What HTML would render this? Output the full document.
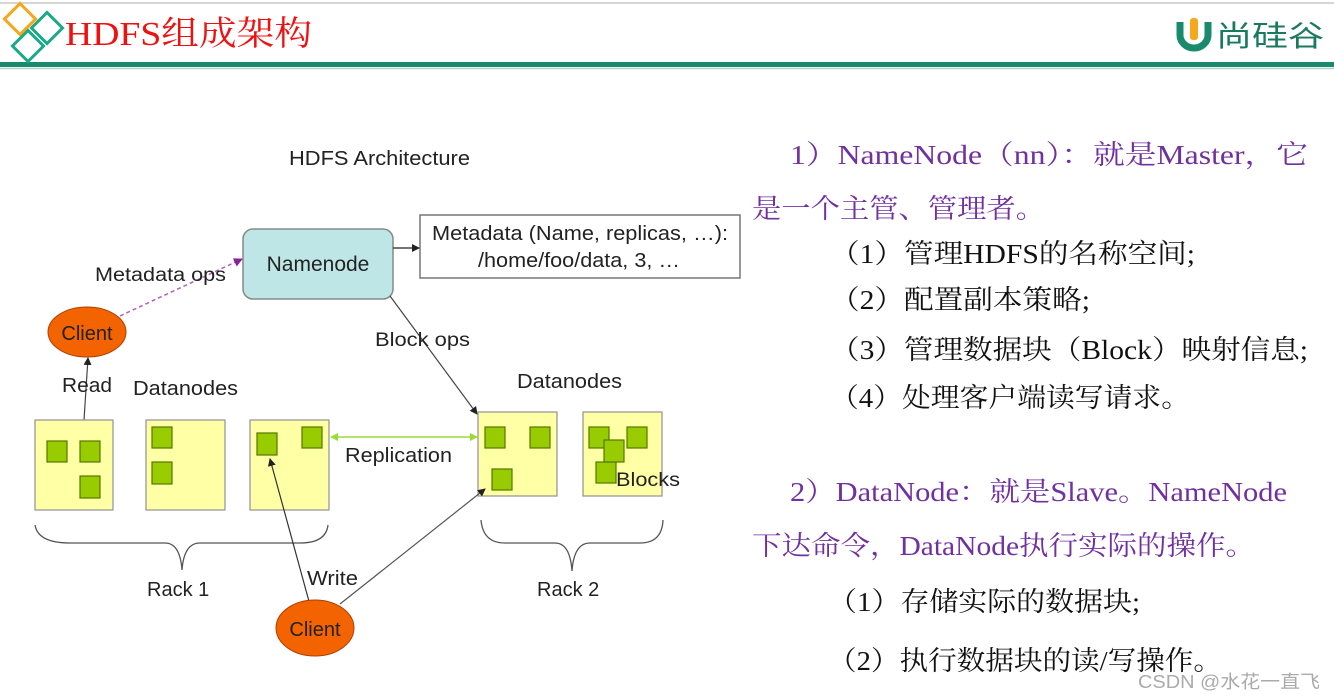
<!DOCTYPE html>
<html><head><meta charset="utf-8"><style>
html,body{margin:0;padding:0;background:#fff;}
svg{display:block;}
.d{font-family:"Liberation Sans","DejaVu Sans",sans-serif;fill:#222;}
.p{font-family:"Liberation Serif","Noto Serif CJK SC","Noto Sans CJK SC",serif;fill:#7030a0;font-size:27px;}
.b{font-family:"Liberation Serif","Noto Serif CJK SC","Noto Sans CJK SC",serif;fill:#111;font-size:27px;}
</style></head><body>
<svg width="1334" height="700" viewBox="0 0 1334 700" xmlns="http://www.w3.org/2000/svg">
<defs>
<marker id="ak" markerWidth="8" markerHeight="8" refX="7" refY="4" orient="auto" markerUnits="userSpaceOnUse"><path d="M0,0 L8,4 L0,8 z" fill="#222"/></marker>
<marker id="ap" markerWidth="9" markerHeight="9" refX="8" refY="4.5" orient="auto" markerUnits="userSpaceOnUse"><path d="M0,0 L9,4.5 L0,9 z" fill="#8a1fa0"/></marker>
<marker id="ag" markerWidth="8" markerHeight="8" refX="7" refY="4" orient="auto-start-reverse" markerUnits="userSpaceOnUse"><path d="M0,0 L8,4 L0,8 z" fill="#99dd33"/></marker>
</defs>
<line x1="0" y1="3" x2="1334" y2="3" stroke="#c8c8c8" stroke-width="1.5"/>
<rect x="0" y="62" width="1334" height="5" fill="#1a8a6e"/>
<line x1="0" y1="68.5" x2="1334" y2="68.5" stroke="#b8cfc8" stroke-width="1.5"/>
<rect x="9" y="8" width="22" height="22" transform="rotate(45 20 19)" fill="none" stroke="#f5a81c" stroke-width="3"/>
<rect x="36" y="17" width="22" height="22" transform="rotate(45 47 28)" fill="none" stroke="#1ea88a" stroke-width="3"/>
<rect x="17" y="35" width="22" height="22" transform="rotate(45 28 46)" fill="none" stroke="#1ea88a" stroke-width="3"/>
<text x="65" y="45" font-family="Liberation Serif,Noto Serif CJK SC,serif" font-size="34" fill="#ee1111" textLength="247" lengthAdjust="spacingAndGlyphs">HDFS组成架构</text>
<path d="M1180,22 L1180,35 A14,13 0 0 0 1208,35 L1208,22" fill="none" stroke="#1a8a6e" stroke-width="7"/>
<rect x="1190" y="18" width="8" height="22" rx="3" fill="#f5a81c"/>
<text x="1216" y="46" font-family="Noto Sans CJK SC,sans-serif" font-size="29" fill="#1a7a5e" textLength="108" lengthAdjust="spacingAndGlyphs">尚硅谷</text>
<text class="d" x="289" y="165" font-size="20" textLength="181" lengthAdjust="spacingAndGlyphs">HDFS Architecture</text>
<rect x="243" y="229" width="150" height="70" rx="10" fill="#bfe6e6" stroke="#888" stroke-width="1.5"/>
<text class="d" x="318" y="271" font-size="21" text-anchor="middle">Namenode</text>
<rect x="420" y="215" width="320" height="63" fill="#fff" stroke="#777" stroke-width="1.5"/>
<text class="d" x="432" y="240" font-size="20" textLength="296" lengthAdjust="spacingAndGlyphs">Metadata (Name, replicas, …):</text>
<text class="d" x="478" y="267" font-size="20" textLength="202" lengthAdjust="spacingAndGlyphs">/home/foo/data, 3, …</text>
<line x1="393" y1="248" x2="419" y2="248" stroke="#222" stroke-width="1.3" marker-end="url(#ak)"/>
<ellipse cx="87" cy="332" rx="39" ry="25" fill="#f36400" stroke="#b04000"/>
<text class="d" x="87" y="340" font-size="20" text-anchor="middle">Client</text>
<line x1="120" y1="316" x2="242" y2="259" stroke="#b060c0" stroke-width="1.5" stroke-dasharray="4,3" marker-end="url(#ap)"/>
<text class="d" x="95" y="281" font-size="19" textLength="131" lengthAdjust="spacingAndGlyphs">Metadata ops</text>
<line x1="390" y1="296" x2="477" y2="414" stroke="#444" stroke-width="1.2" marker-end="url(#ak)"/>
<text class="d" x="375" y="346" font-size="19" textLength="95" lengthAdjust="spacingAndGlyphs">Block ops</text>
<line x1="84" y1="420" x2="88" y2="358" stroke="#444" stroke-width="1.2" marker-end="url(#ak)"/>
<text class="d" x="62" y="392" font-size="20" textLength="50" lengthAdjust="spacingAndGlyphs">Read</text>
<text class="d" x="133" y="395" font-size="20" textLength="105" lengthAdjust="spacingAndGlyphs">Datanodes</text>
<text class="d" x="517" y="388" font-size="20" textLength="105" lengthAdjust="spacingAndGlyphs">Datanodes</text>
<g fill="#ffffa6" stroke="#999" stroke-width="1.3">
<rect x="35" y="420" width="78" height="90"/><rect x="146" y="420" width="79" height="90"/><rect x="250" y="420" width="79" height="90"/>
<rect x="478" y="412" width="79" height="84"/><rect x="583" y="412" width="79" height="84"/>
</g>
<g fill="#99cc00" stroke="#557700" stroke-width="1.2">
<rect x="47" y="441" width="20" height="21"/><rect x="80" y="441" width="20" height="21"/><rect x="80" y="476" width="20" height="22"/>
<rect x="152" y="427" width="20" height="21"/><rect x="152" y="462" width="20" height="22"/>
<rect x="257" y="433" width="20" height="22"/><rect x="302" y="427" width="20" height="21"/>
<rect x="485" y="427" width="20" height="21"/><rect x="530" y="427" width="20" height="21"/><rect x="492" y="469" width="20" height="21"/>
<rect x="589" y="427" width="20" height="21"/><rect x="627" y="427" width="20" height="21"/><rect x="596" y="462" width="20" height="21"/><rect x="604" y="440" width="20" height="22"/>
</g>
<text class="d" x="616" y="486" font-size="19" textLength="64" lengthAdjust="spacingAndGlyphs">Blocks</text>
<line x1="331" y1="437" x2="477" y2="437" stroke="#99dd33" stroke-width="1.6" marker-start="url(#ag)" marker-end="url(#ag)"/>
<text class="d" x="345" y="462" font-size="20" textLength="107" lengthAdjust="spacingAndGlyphs">Replication</text>
<path d="M35,525 Q38,543 70,543 L165,543 Q180,543 182,570 Q184,543 200,543 L300,543 Q326,543 328,525" fill="none" stroke="#555" stroke-width="1.3"/>
<path d="M481,520 Q483,543 505,543 L555,543 Q570,543 572,571 Q574,543 590,543 L640,543 Q662,543 663,520" fill="none" stroke="#555" stroke-width="1.3"/>
<text class="d" x="147" y="596" font-size="20">Rack 1</text>
<text class="d" x="537" y="596" font-size="20">Rack 2</text>
<line x1="310" y1="605" x2="270" y2="459" stroke="#333" stroke-width="1.2" marker-end="url(#ak)"/>
<line x1="340" y1="604" x2="485" y2="489" stroke="#555" stroke-width="1.2" marker-end="url(#ak)"/>
<text class="d" x="307" y="585" font-size="20" textLength="51" lengthAdjust="spacingAndGlyphs">Write</text>
<ellipse cx="315" cy="628" rx="39" ry="28" fill="#f36400" stroke="#b04000"/>
<text class="d" x="315" y="636" font-size="20" text-anchor="middle">Client</text>
<text class="p" x="790" y="164" textLength="518" lengthAdjust="spacingAndGlyphs">1）NameNode（nn）：就是Master，它</text>
<text class="p" x="752" y="218" textLength="293" lengthAdjust="spacingAndGlyphs">是一个主管、管理者。</text>
<text class="b" x="830" y="263" textLength="365" lengthAdjust="spacingAndGlyphs">（1）管理HDFS的名称空间;</text>
<text class="b" x="830" y="309" textLength="260" lengthAdjust="spacingAndGlyphs">（2）配置副本策略;</text>
<text class="b" x="830" y="359" textLength="478" lengthAdjust="spacingAndGlyphs">（3）管理数据块（Block）映射信息;</text>
<text class="b" x="830" y="407" textLength="360" lengthAdjust="spacingAndGlyphs">（4）处理客户端读写请求。</text>
<text class="p" x="790" y="501" textLength="497" lengthAdjust="spacingAndGlyphs">2）DataNode：就是Slave。NameNode</text>
<text class="p" x="752" y="555" textLength="503" lengthAdjust="spacingAndGlyphs">下达命令，DataNode执行实际的操作。</text>
<text class="b" x="828" y="611" textLength="312" lengthAdjust="spacingAndGlyphs">（1）存储实际的数据块;</text>
<text class="b" x="828" y="670" textLength="394" lengthAdjust="spacingAndGlyphs">（2）执行数据块的读/写操作。</text>
<text x="1138" y="688" font-family="Liberation Sans,Noto Sans CJK SC,sans-serif" font-size="18" fill="#aaa" textLength="182" lengthAdjust="spacingAndGlyphs">CSDN @水花一直飞</text>
</svg>
</body></html>
